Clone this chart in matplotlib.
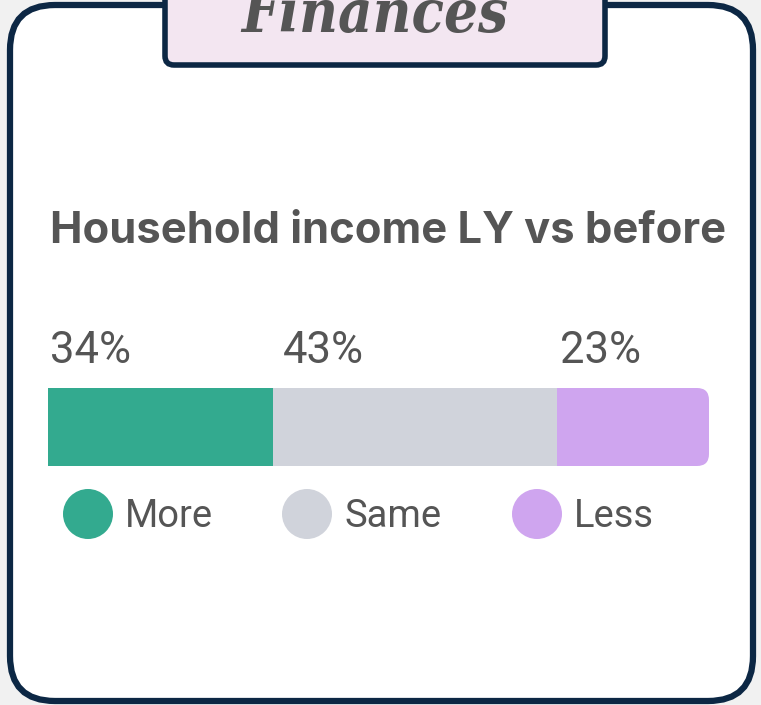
import matplotlib
matplotlib.use("Agg")
import matplotlib.pyplot as plt
from matplotlib.patches import FancyBboxPatch, Circle
from matplotlib.transforms import blended_transform_factory, offset_copy
import numpy as np

# ---- data ----
categories = ["More", "Same", "Less"]
values = [34, 43, 23]
labels = ["34%", "43%", "23%"]
colors = ["#33aa8f", "#d0d3db", "#cfa5ef"]
title = "Household income LY vs before"
tab_title = "Finances"

W, H = 761, 705
DPI = 100
fig = plt.figure(figsize=(W / DPI, H / DPI), dpi=DPI)
fig.patch.set_facecolor("#f1f1f1")

bg = fig.add_axes([0, 0, 1, 1])
bg.set_xlim(0, W)
bg.set_ylim(H, 0)
bg.axis("off")

NAVY = "#0c2744"
TXT = "#555555"

card = FancyBboxPatch((10, 5), 743, 696, boxstyle="round,pad=0,rounding_size=45",
                      facecolor="white", edgecolor=NAVY, linewidth=4.5, zorder=1)
bg.add_patch(card)
tab = FancyBboxPatch((165, -30), 440, 95, boxstyle="round,pad=0,rounding_size=9",
                     facecolor="#f3e6f1", edgecolor=NAVY, linewidth=4.0, zorder=2)
bg.add_patch(tab)

def px(v):
    return v * 0.72

t_tab = bg.text(375, 32, tab_title, fontsize=px(60), family="DejaVu Serif",
                stretch="condensed", weight="bold", style="italic", color=TXT,
                ha="center", va="baseline", zorder=3)
t_title = bg.text(50, 243, title, fontsize=px(50), family="Inter", weight="bold",
                  color=TXT, ha="left", va="baseline", zorder=3)

bar_left, bar_right, bar_top, bar_bot = 48, 709, 388, 466
axb = fig.add_axes([bar_left / W, 1 - bar_bot / H, (bar_right - bar_left) / W,
                    (bar_bot - bar_top) / H])
axb.set_xlim(0, sum(values))
axb.set_ylim(-0.5, 0.5)
axb.axis("off")
lefts = np.concatenate([[0], np.cumsum(values)[:-1]])
bars = axb.barh([0] * len(values), values, left=lefts, height=1.0, color=colors,
                linewidth=0)
clip = FancyBboxPatch((bar_left - 40, bar_top), bar_right - bar_left + 40,
                      bar_bot - bar_top, boxstyle="round,pad=0,rounding_size=12",
                      transform=bg.transData, facecolor="none", edgecolor="none")
for b in bars:
    b.set_clip_path(clip)

tr = blended_transform_factory(axb.transData, bg.transData)
offsets = [2, 10, 3]
pct_texts = []
for lft, lab, off in zip(lefts, labels, offsets):
    pct_texts.append(axb.text(lft, 363, lab,
             transform=offset_copy(tr, fig=fig, x=off * 0.72, units="points"),
             fontsize=px(40), family="Roboto", weight="normal", color=TXT,
             ha="left", va="baseline", clip_on=False))

leg_x = [88, 307, 537]
leg_texts = []
for cx, c, name in zip(leg_x, colors, categories):
    bg.add_patch(Circle((cx, 514), 25, facecolor=c, edgecolor="none", zorder=3))
    leg_texts.append(bg.text(cx + 37, 527, name, fontsize=px(40), family="Roboto",
                             weight="normal", color=TXT, ha="left",
                             va="baseline", zorder=3))

# fit widths to the reference layout
fig.canvas.draw()
r = fig.canvas.get_renderer()
for t, target in [(t_tab, 267), (t_title, 676)]:
    w = t.get_window_extent(r).width
    t.set_fontsize(t.get_fontsize() * target / w)
scale = 81 / pct_texts[0].get_window_extent(r).width
for t in pct_texts:
    t.set_fontsize(t.get_fontsize() * scale)
scale = 88 / leg_texts[0].get_window_extent(r).width
for t in leg_texts:
    t.set_fontsize(t.get_fontsize() * scale)

fig.savefig("out.png", dpi=DPI, facecolor=fig.get_facecolor())
